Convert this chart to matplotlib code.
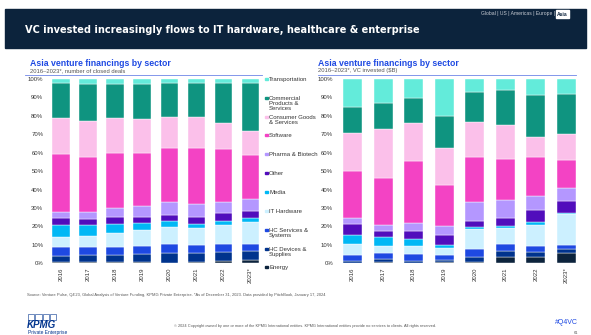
"""Asia venture financings by sector - two 100% stacked bar panels (KPMG Q4 VC style)."""
import matplotlib
matplotlib.use("Agg")
import matplotlib.pyplot as plt
from matplotlib import font_manager
from matplotlib.font_manager import FontProperties
from matplotlib.patches import Rectangle
import numpy as np

years = ["2016", "2017", "2018", "2019", "2020", "2021", "2022", "2023*"]

# bottom -> top stacking order
sectors = ["Energy", "HC Devices &\nSupplies", "HC Services &\nSystems", "IT Hardware",
           "Media", "Other", "Pharma & Biotech", "Software",
           "Consumer Goods\n& Services", "Commercial\nProducts &\nServices", "Transportation"]
colors = ["#0c233c", "#00338d", "#1e49e2", "#ccf0ff", "#00b8f5", "#510dbc",
          "#b497ff", "#f343c4", "#fbc0ea", "#0f9480", "#63ebda"]

# share of closed deals (%), one list per sector, 2016..2023*
deals_energy = [0.5, 0.5, 0.5, 0.5, 0.4, 0.5, 1.4, 2.0]
deals_hc_dev = [3.3, 4.0, 4.0, 4.5, 5.0, 5.1, 4.6, 4.9]
deals_hc_svc = [4.8, 4.5, 4.5, 4.6, 4.9, 4.2, 4.3, 3.8]
deals_it_hw = [5.8, 6.0, 7.6, 8.3, 9.6, 9.5, 10.7, 11.7]
deals_media = [6.4, 5.8, 4.9, 3.8, 2.9, 2.2, 2.1, 2.4]
deals_other = [3.6, 3.2, 3.8, 3.6, 3.4, 3.8, 4.4, 3.8]
deals_pharma = [3.2, 3.8, 4.9, 5.6, 6.8, 6.9, 5.6, 6.1]
deals_software = [31.5, 30.1, 29.7, 29.1, 29.4, 30.2, 29.1, 23.9]
deals_consumer = [19.9, 19.5, 18.8, 18.1, 16.8, 16.8, 13.8, 13.2]
deals_commercial = [19.0, 20.1, 18.8, 19.4, 18.8, 18.8, 22.0, 26.2]
deals_transport = [2.0, 2.5, 2.5, 2.5, 2.0, 2.0, 2.0, 2.0]

# share of VC invested (%)
vc_energy = [0.3, 0.8, 0.3, 0.8, 0.5, 3.6, 3.3, 5.6]
vc_hc_dev = [1.0, 1.7, 0.7, 1.2, 2.8, 3.3, 2.6, 2.2]
vc_hc_svc = [3.0, 3.1, 4.2, 2.3, 4.5, 3.4, 3.3, 2.1]
vc_it_hw = [6.0, 3.6, 4.4, 3.8, 10.8, 9.0, 11.4, 16.7]
vc_media = [5.3, 5.1, 3.6, 1.8, 0.9, 1.0, 2.0, 0.7]
vc_other = [5.7, 3.2, 4.3, 5.4, 3.6, 4.5, 6.2, 6.5]
vc_pharma = [3.3, 3.5, 4.2, 5.2, 10.0, 9.7, 7.7, 6.9]
vc_software = [25.3, 25.1, 33.8, 22.1, 24.4, 21.9, 21.0, 15.4]
vc_consumer = [20.6, 27.0, 20.8, 20.2, 19.4, 18.6, 11.2, 13.9]
vc_commercial = [14.5, 13.7, 13.6, 17.0, 15.9, 19.0, 22.6, 21.9]
vc_transport = [15.0, 13.2, 10.1, 20.2, 7.2, 6.0, 8.7, 8.1]

deals = [deals_energy, deals_hc_dev, deals_hc_svc, deals_it_hw, deals_media, deals_other,
         deals_pharma, deals_software, deals_consumer, deals_commercial, deals_transport]
vc = [vc_energy, vc_hc_dev, vc_hc_svc, vc_it_hw, vc_media, vc_other,
      vc_pharma, vc_software, vc_consumer, vc_commercial, vc_transport]

W, H = 591, 335
NAVY = "#0c233c"
BLUE = "#1e49e2"
GREY = "#555555"

plt.rcParams["font.family"] = ["Liberation Sans", "DejaVu Sans"]


def title_font():
    # prefer a condensed bold face if one happens to be installed
    for f in font_manager.fontManager.ttflist:
        n = f.fname.lower()
        if ("condensed" in n or "narrow" in n) and "bold" in n and "oblique" not in n \
                and "italic" not in n:
            return FontProperties(fname=f.fname)
    return FontProperties(family="Liberation Sans", weight="bold")


def fx(px):
    return px / W


def fy(py):
    return 1 - py / H


def stacked(ax, data, width):
    x = np.arange(len(years))
    bottom = np.zeros(len(years))
    for vals, col in zip(data, colors):
        ax.bar(x, vals, width, bottom=bottom, color=col, edgecolor="white", linewidth=0.3)
        bottom += np.array(vals)
    ax.set_xlim(-0.5, len(years) - 0.5)
    ax.set_ylim(0, 100)
    ax.set_yticks(range(0, 101, 10))
    ax.set_yticklabels([f"{v}%" for v in range(0, 101, 10)], fontsize=4.3, color="#333333")
    ax.set_xticks(x)
    ax.set_xticklabels(years, rotation=90, fontsize=4.3, color="#333333")
    ax.tick_params(length=0, pad=3)
    for s in ax.spines.values():
        s.set_visible(False)


fig = plt.figure(figsize=(W / 100, H / 100), dpi=100)

# header band
fig.patches.append(Rectangle((fx(5), fy(48)), fx(581), 39 / H, transform=fig.transFigure,
                             color=NAVY, zorder=0))
tfp = title_font()
tfp.set_size(14.5)
title = fig.text(fx(25), fy(30), "VC invested increasingly flows to IT hardware, healthcare & enterprise",
                 fontproperties=tfp, color="white", va="center")
# shrink to the reference width (about 390 px)
fig.canvas.draw()
tw = title.get_window_extent().width
if tw > 395:
    title.set_fontsize(14.5 * 392 / tw)

fig.text(fx(555), fy(14), "Global | US | Americas | Europe |", fontsize=3.6, color="#c8ccd4",
         ha="right", va="center")
fig.text(fx(557), fy(14), "Asia", fontsize=3.6, color=NAVY, fontweight="bold", va="center",
         bbox=dict(boxstyle="square,pad=0.25", fc="white", ec="white"))

# panel headers
panels = [(30, 25, 262, "2016\u20132023*, number of closed deals"),
          (318, 318, 576, "2016\u20132023*, VC invested ($B)")]
for tx, x0, x1, sub in panels:
    fig.text(fx(tx), fy(63), "Asia venture financings by sector", fontsize=6.3,
             fontweight="bold", color=BLUE, va="center")
    fig.text(fx(tx), fy(70.5), sub, fontsize=4.2, color=GREY, va="center")
    fig.add_artist(plt.Line2D([fx(x0), fx(x1)], [fy(75), fy(75)], color="#6f86e8", lw=0.6))

# axes (pixel geometry)
ax1 = fig.add_axes([fx(47.5), fy(263.3), fx(216.6), (263.3 - 79) / H])
stacked(ax1, deals, 0.65)
ax2 = fig.add_axes([fx(337.2), fy(263.3), fx(244.6), (263.3 - 79) / H])
stacked(ax2, vc, 0.62)

# legend (top -> bottom); text top sits slightly above the marker centre
leg_y = [79, 98, 117, 135, 154, 173, 192, 211, 230, 249, 267]
for yy, name, col in zip(leg_y, sectors[::-1], colors[::-1]):
    fig.patches.append(Rectangle((fx(265), fy(yy) - 1.2 / H), 2.6 / W, 2.6 / H,
                                 transform=fig.transFigure, color=col))
    fig.text(fx(269), fy(yy - 2.3), name, fontsize=4.3, color="#333333", va="top",
             linespacing=1.05)

# footer
fig.text(fx(27), fy(295), "Source: Venture Pulse, Q4'23, Global Analysis of Venture Funding, "
         "KPMG Private Enterprise. *As of December 31, 2023. Data provided by PitchBook, "
         "January 17, 2024", fontsize=2.9, color=GREY, va="center")
for i in range(4):
    fig.patches.append(Rectangle((fx(28 + i * 7.3), fy(319.5)), 6.3 / W, 5.5 / H,
                                 transform=fig.transFigure, fill=False, ec="#00338d", lw=0.4))
fig.text(fx(27), fy(325.5), "KPMG", fontsize=7.0, fontweight="bold", fontstyle="italic",
         color="#00338d", va="center")
fig.text(fx(28), fy(332.5), "Private Enterprise", fontsize=3.5, color="#00338d", va="center")
fig.text(fx(305), fy(326), "\u00a9 2024 Copyright owned by one or more of the KPMG International "
         "entities. KPMG International entities provide no services to clients. "
         "All rights reserved.", fontsize=2.8, color=GREY, ha="center", va="center")
fig.text(fx(578), fy(322), "#Q4VC", fontsize=5, color="#1e49e2", ha="right", va="center")
fig.text(fx(578), fy(333), "61", fontsize=3, color=GREY, ha="right", va="center")

fig.savefig("out.png", dpi=100)
